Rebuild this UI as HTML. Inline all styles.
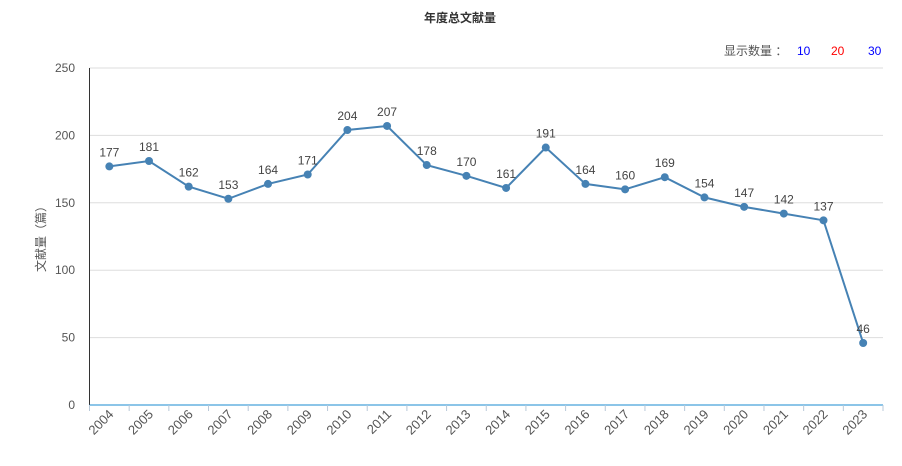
<!DOCTYPE html>
<html><head><meta charset="utf-8"><style>
body{margin:0;background:#fff;}
svg text{font-family:"Liberation Sans","Noto Sans CJK SC",sans-serif;}
</style></head><body>
<svg width="902" height="461" xmlns="http://www.w3.org/2000/svg">
<text x="460" y="22" text-anchor="middle" font-size="12" font-weight="bold" fill="#333">年度总文献量</text>
<text x="724" y="55" font-size="12" fill="#555">显示数量 ：</text>
<text x="797" y="55" font-size="12" fill="#00f">10</text>
<text x="831" y="55" font-size="12" fill="#f00">20</text>
<text x="868" y="55" font-size="12" fill="#00f">30</text>
<text transform="translate(45,236) rotate(-90)" text-anchor="middle" font-size="12" fill="#555">文献量（篇）</text>
<g id="grid"></g><g id="xaxis"></g><g id="series"></g>
</svg>
<script>
const categories=["2004","2005","2006","2007","2008","2009","2010","2011","2012","2013","2014","2015","2016","2017","2018","2019","2020","2021","2022","2023"];
const values=[177,181,162,153,164,171,204,207,178,170,161,191,164,160,169,154,147,142,137,46];
const yTicks=[0,50,100,150,200,250];
const NS="http://www.w3.org/2000/svg";
const L=89.5,R=883,T=68,B=405,yMax=250;
const bw=(R-L)/categories.length;
const x=i=>L+bw*(i+0.5);
const y=v=>B-(v/yMax)*(B-T);
function mk(tag,attrs,parent,text){const e=document.createElementNS(NS,tag);for(const k in attrs)e.setAttribute(k,attrs[k]);if(text!==undefined)e.textContent=text;parent.appendChild(e);return e;}
const grid=document.getElementById('grid'),xa=document.getElementById('xaxis'),ser=document.getElementById('series');
yTicks.forEach(t=>{
  if(t>0){const g=mk('line',{x1:L,x2:R,y1:y(t),y2:y(t),stroke:'#ddd'},grid);
  
  }
  const lb=mk('text',{x:75,y:y(t)+4,'text-anchor':'end','font-size':12,fill:'#555'},grid,t);
  
  
});
const ya=mk('line',{x1:L,x2:L,y1:T,y2:B,stroke:'#333'},xa);


const xl=mk('line',{x1:L,x2:R,y1:B,y2:B,stroke:'#1a8bd0'},xa);


for(let i=0;i<=categories.length;i++){
  const tk=mk('line',{x1:L+bw*i,x2:L+bw*i,y1:B,y2:B+6,stroke:'#b8c8d8'},xa);
  
  
}
categories.forEach((c,i)=>{
  const t=mk('text',{transform:`translate(${x(i)+5},${B+10}) rotate(-45)`,'text-anchor':'end','font-size':13,fill:'#555'},xa,c);
  
  
});
const pts=values.map((v,i)=>x(i)+','+y(v)).join(' ');
const pl=mk('polyline',{points:pts,fill:'none',stroke:'#4682b4','stroke-width':2},ser);


values.forEach((v,i)=>{
  const c=mk('circle',{cx:x(i),cy:y(v),r:4,fill:'#4682b4'},ser);
  
  
  const t=mk('text',{x:x(i),y:y(v)-10,'text-anchor':'middle','font-size':12,fill:'#444'},ser,v);
  
  
});
</script>
</body></html>
